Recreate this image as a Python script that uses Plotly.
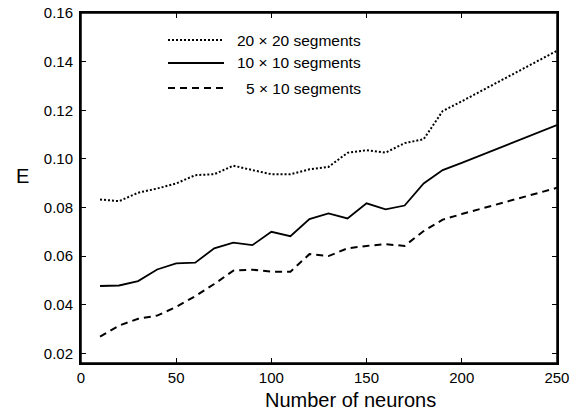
import plotly.graph_objects as go

neurons_a = [10, 20, 30, 40, 50, 60, 70, 80, 90, 100, 110, 120, 130, 140, 150, 160, 170, 180, 190, 200, 250]

e_20x20 = [0.0833, 0.0826, 0.0861, 0.0878, 0.0899, 0.0933, 0.0937, 0.0972, 0.0954, 0.0937, 0.0937,
           0.0957, 0.0967, 0.1025, 0.1036, 0.1026, 0.1065, 0.1081, 0.1197, 0.1237, 0.1445]
e_10x10 = [0.0477, 0.0479, 0.0497, 0.0545, 0.0570, 0.0573, 0.0632, 0.0655, 0.0645, 0.0700, 0.0682,
           0.0752, 0.0776, 0.0755, 0.0817, 0.0792, 0.0808, 0.0899, 0.0954, 0.0984, 0.1139]
e_5x10 = [0.0269, 0.0314, 0.0342, 0.0355, 0.0391, 0.0435, 0.0485, 0.0540, 0.0544, 0.0536, 0.0536,
          0.0608, 0.0600, 0.0632, 0.0642, 0.0649, 0.0642, 0.0703, 0.0750, 0.0773, 0.0881]

series_names = ["20 \u00d7 20 segments", "10 \u00d7 10 segments", "5 \u00d7 10 segments"]
series_values = [e_20x20, e_10x10, e_5x10]
series_dash = ["2px,2px", "solid", "7px,5px"]

x_ticks = [0, 50, 100, 150, 200, 250]
y_ticks = [0.02, 0.04, 0.06, 0.08, 0.10, 0.12, 0.14, 0.16]
y_ticklabels = ["0.02", "0.04", "0.06", "0.08", "0.10", "0.12", "0.14", "0.16"]

x_title = "Number of neurons"
y_title = "E"

FONT = "Liberation Sans, Arial, sans-serif"

fig = go.Figure()
for name, vals, dash in zip(series_names, series_values, series_dash):
    fig.add_trace(go.Scatter(
        x=neurons_a, y=vals, mode="lines", name=name,
        line=dict(color="black", width=2 if dash != "solid" else 1.8, dash=dash),
        showlegend=False,
    ))

W, H = 581, 412
L, R, T, B = 81, 24, 13, 49
pw, ph = W - L - R, H - T - B

def px_to_paper(xp, yp):
    return (xp - L) / pw, 1 - (yp - T) / ph

# Plot frame (top and right edges)
fig.add_shape(type="rect", xref="paper", yref="paper", x0=0, x1=1, y0=0, y1=1,
              line=dict(color="black", width=1.5), fillcolor="rgba(0,0,0,0)", layer="above")

# Custom legend (line samples + labels)
legend_rows = [40, 63, 88]
for i, (name, dash) in enumerate(zip(series_names, series_dash)):
    x0, y0 = px_to_paper(168, legend_rows[i])
    x1, _ = px_to_paper(224, legend_rows[i])
    fig.add_shape(type="line", xref="paper", yref="paper", x0=x0, x1=x1, y0=y0, y1=y0,
                  line=dict(color="black", width=2 if dash != "solid" else 1.8, dash=dash))
    tx, ty = px_to_paper(363, legend_rows[i])
    fig.add_annotation(xref="paper", yref="paper", x=tx, y=ty, text=name, showarrow=False,
                       xanchor="right", yanchor="middle", font=dict(size=15.5, color="black", family=FONT))

# Axis titles
ex, ey = px_to_paper(22, 176)
fig.add_annotation(xref="paper", yref="paper", x=ex, y=ey, text=y_title, showarrow=False,
                   xanchor="center", yanchor="middle", font=dict(size=20, color="black", family=FONT))
nx, ny = px_to_paper(350, 400)
fig.add_annotation(xref="paper", yref="paper", x=nx, y=ny, text=x_title, showarrow=False,
                   xanchor="center", yanchor="middle", font=dict(size=20, color="black", family=FONT))

fig.update_layout(
    width=W, height=H,
    margin=dict(l=L, r=R, t=T, b=B, autoexpand=False),
    plot_bgcolor="white", paper_bgcolor="white",
    font=dict(family=FONT, color="black", size=15),
    xaxis=dict(
        range=[0, 250.05], tickvals=x_ticks, ticks="inside", ticklen=5, tickwidth=1,
        tickcolor="black", showline=True, linecolor="black", linewidth=2, mirror="ticks",
        showgrid=False, zeroline=False, tickfont=dict(size=15), automargin=False,
        ticklabeloverflow="allow",
    ),
    yaxis=dict(
        range=[0.016, 0.16005], tickvals=y_ticks, ticktext=y_ticklabels, ticks="inside", ticklen=5,
        tickwidth=1, tickcolor="black", showline=True, linecolor="black", linewidth=2,
        mirror="ticks", showgrid=False, zeroline=False, tickfont=dict(size=15), automargin=False,
        ticklabelstandoff=3, ticklabeloverflow="allow",
    ),
)

# Remove the default page margin so the figure sits at the window's top-left corner.
fig.write_html("out.html", config={"displayModeBar": False},
               post_script="document.body.style.margin='0px';")
